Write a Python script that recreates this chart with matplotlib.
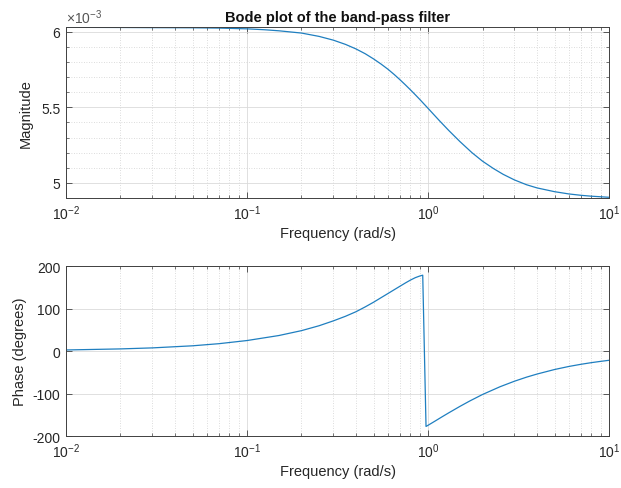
import matplotlib
matplotlib.use("Agg")
import matplotlib.pyplot as plt
from matplotlib.ticker import LogLocator, MultipleLocator, ScalarFormatter, NullFormatter

plt.rcParams['font.family'] = ['Liberation Sans', 'DejaVu Sans']
plt.rcParams['mathtext.default'] = 'regular'
plt.rcParams['axes.unicode_minus'] = False

# ---- data ----
freq_mag = [0.01, 0.02, 0.03, 0.05, 0.07, 0.1, 0.125, 0.15, 0.2, 0.25, 0.3, 0.35,
            0.4, 0.45, 0.5, 0.55, 0.6, 0.65, 0.7, 0.75, 0.8, 0.85, 0.9, 1.0, 1.15,
            1.3, 1.5, 1.75, 2.0, 2.3, 2.6, 3.0, 3.5, 4.0, 5.0, 6.0, 7.0, 8.0, 10.0]
magnitude = [6.030e-3, 6.029e-3, 6.028e-3, 6.027e-3, 6.025e-3, 6.020e-3, 6.014e-3,
             6.007e-3, 5.992e-3, 5.970e-3, 5.945e-3, 5.917e-3, 5.887e-3, 5.855e-3,
             5.821e-3, 5.787e-3, 5.753e-3, 5.718e-3, 5.683e-3, 5.649e-3, 5.616e-3,
             5.584e-3, 5.553e-3, 5.494e-3, 5.415e-3, 5.348e-3, 5.274e-3, 5.200e-3,
             5.144e-3, 5.095e-3, 5.057e-3, 5.020e-3, 4.988e-3, 4.967e-3, 4.942e-3,
             4.927e-3, 4.918e-3, 4.912e-3, 4.905e-3]

freq_ph = [0.01, 0.02, 0.03, 0.05, 0.07, 0.1, 0.15, 0.2, 0.25, 0.3, 0.35, 0.4,
           0.45, 0.5, 0.55, 0.6, 0.65, 0.7, 0.75, 0.8, 0.85, 0.9, 0.935, 0.975,
           1.0, 1.1, 1.2, 1.3, 1.5, 1.7, 2.0, 2.5, 3.0, 3.5, 4.0, 5.0, 6.0, 7.0,
           8.0, 9.0, 10.0]
phase = [2.5, 5, 7.4, 12.3, 17.3, 24.7, 36.5, 48, 59.5, 71, 81.8, 92.5, 103.9,
         114.8, 125.5, 135.2, 144.2, 152.5, 160.2, 167, 172.6, 176.5, 178.5,
         -177.5, -174.8, -164.2, -154.4, -145.6, -130.3, -117.6, -102.3, -84.0,
         -71.1, -61.5, -54.2, -43.5, -36.3, -31.2, -27.3, -24.3, -21.8]

title = "Bode plot of the band-pass filter"
xlabel = "Frequency (rad/s)"


class PlainScalarFormatter(ScalarFormatter):
    def _set_format(self):
        self.format = '%g'


# ---- figure ----
fig = plt.figure(figsize=(6.21, 4.89), dpi=100)
ax1 = fig.add_axes([0.1063, 0.593, 0.8744, 0.3497])
ax2 = fig.add_axes([0.1063, 0.1063, 0.8744, 0.3476])

line_color = '#1f7fc0'
axis_color = '#404040'
text_color = '#262626'

for ax in (ax1, ax2):
    ax.set_xscale('log')
    ax.set_xlim(1e-2, 1e1)
    ax.xaxis.set_major_locator(LogLocator(base=10, numticks=10))
    ax.xaxis.set_minor_locator(LogLocator(base=10, subs=range(2, 10), numticks=20))
    ax.xaxis.set_minor_formatter(NullFormatter())
    ax.tick_params(which='both', direction='in', top=True, right=True,
                   colors=axis_color, labelcolor=text_color, labelsize=10)
    ax.tick_params(which='major', length=4, width=0.6, pad=4)
    ax.tick_params(which='minor', length=2, width=0.5)
    for s in ax.spines.values():
        s.set_color(axis_color)
        s.set_linewidth(0.7)
    ax.grid(True, which='major', color='#dadada', linestyle='-', linewidth=0.6)
    ax.set_axisbelow(True)
    ax.set_xlabel(xlabel, fontsize=10.5, color=text_color, labelpad=3)

# magnitude
ax1.plot(freq_mag, magnitude, color=line_color, linewidth=0.9)
ax1.set_ylim(4.90e-3, 6.032e-3)
ax1.yaxis.set_major_locator(MultipleLocator(0.5e-3))
ax1.yaxis.set_minor_locator(MultipleLocator(0.1e-3))
fmt = PlainScalarFormatter(useMathText=True)
fmt.set_powerlimits((-2, 2))
ax1.yaxis.set_major_formatter(fmt)
ax1.yaxis.get_offset_text().set_fontsize(10)
ax1.yaxis.get_offset_text().set_color('#555555')
ax1.grid(True, which='minor', color='#d0d0d0', linestyle=(0, (1, 2)), linewidth=0.6)
ax1.set_ylabel("Magnitude", fontsize=10.5, color=text_color, labelpad=6)
ax1.set_title(title, fontsize=10.5, fontweight='bold', color='#111111', pad=4)

# phase
ax2.plot(freq_ph, phase, color=line_color, linewidth=0.9)
ax2.set_ylim(-200, 200)
ax2.yaxis.set_major_locator(MultipleLocator(100))
ax2.grid(True, which='minor', axis='x', color='#d0d0d0', linestyle=(0, (1, 2)), linewidth=0.6)
ax2.set_ylabel("Phase (degrees)", fontsize=10.5, color=text_color, labelpad=4)

fig.savefig("out.png", dpi=100)
